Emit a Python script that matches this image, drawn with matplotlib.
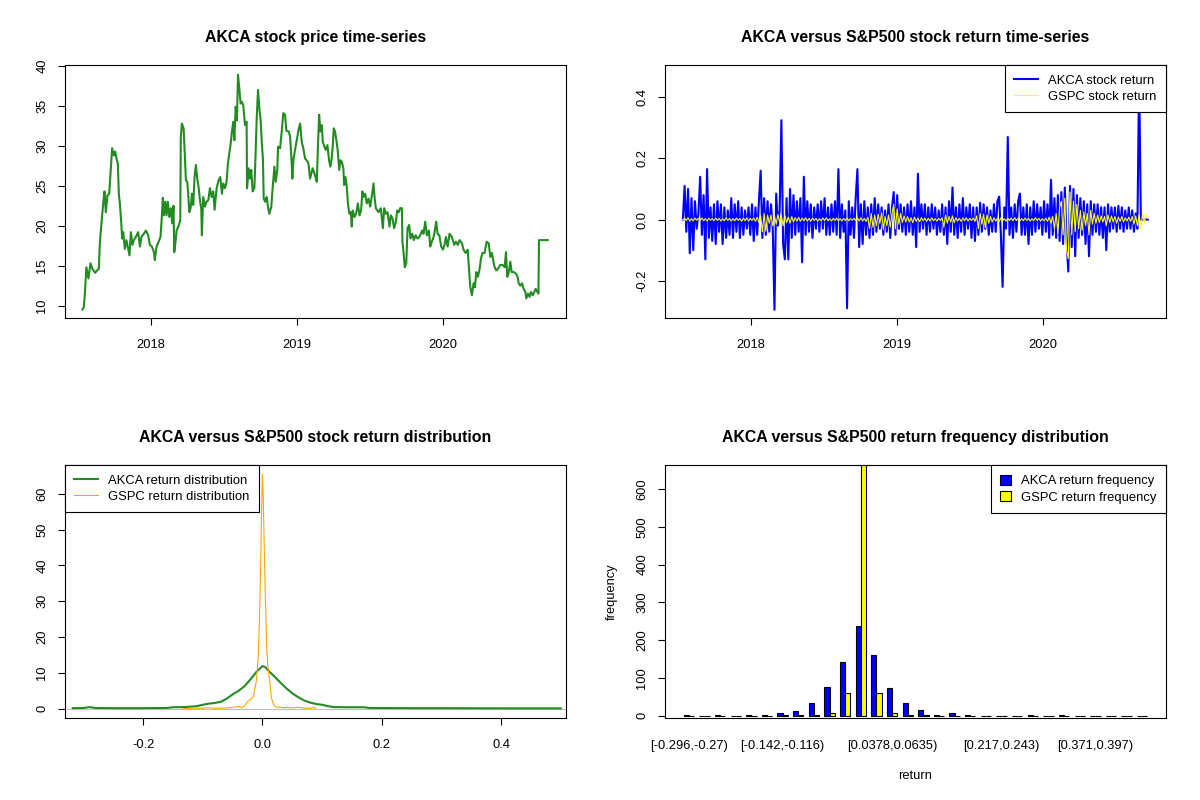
import numpy as np
import matplotlib
matplotlib.use("Agg")
import matplotlib.pyplot as plt
from matplotlib.patches import Patch

plt.rcParams["font.family"] = ["Liberation Sans", "DejaVu Sans"]

# ---- AKCA closing price (decimal year, USD) ----
price_t = [
    2017.532, 2017.541, 2017.548, 2017.555, 2017.559, 2017.573, 2017.587, 2017.600, 2017.619, 2017.632,
    2017.644, 2017.650, 2017.655, 2017.664, 2017.674, 2017.683, 2017.692, 2017.703, 2017.715, 2017.724,
    2017.735, 2017.747, 2017.756, 2017.765, 2017.774, 2017.781, 2017.788, 2017.797, 2017.804, 2017.811,
    2017.822, 2017.833, 2017.845, 2017.854, 2017.863, 2017.874, 2017.884, 2017.897, 2017.913, 2017.925,
    2017.936, 2017.952, 2017.966, 2017.982, 2017.993, 2018.007, 2018.021, 2018.027, 2018.039, 2018.053,
    2018.066, 2018.075, 2018.082, 2018.089, 2018.098, 2018.107, 2018.116, 2018.126, 2018.137, 2018.146,
    2018.155, 2018.160, 2018.169, 2018.176, 2018.192, 2018.201, 2018.205, 2018.212, 2018.224, 2018.233,
    2018.240, 2018.249, 2018.256, 2018.263, 2018.272, 2018.281, 2018.290, 2018.299, 2018.308, 2018.317,
    2018.326, 2018.336, 2018.345, 2018.349, 2018.358, 2018.370, 2018.381, 2018.393, 2018.404, 2018.416,
    2018.427, 2018.436, 2018.450, 2018.463, 2018.475, 2018.486, 2018.495, 2018.507, 2018.518, 2018.527,
    2018.537, 2018.546, 2018.555, 2018.564, 2018.571, 2018.580, 2018.589, 2018.596, 2018.605, 2018.614,
    2018.623, 2018.632, 2018.644, 2018.655, 2018.658, 2018.669, 2018.678, 2018.687, 2018.696, 2018.708,
    2018.715, 2018.724, 2018.733, 2018.742, 2018.751, 2018.758, 2018.767, 2018.772, 2018.783, 2018.792,
    2018.801, 2018.810, 2018.824, 2018.833, 2018.845, 2018.854, 2018.865, 2018.870, 2018.884, 2018.895,
    2018.906, 2018.918, 2018.927, 2018.943, 2018.952, 2018.961, 2018.968, 2018.975, 2018.986, 2018.998,
    2019.009, 2019.021, 2019.032, 2019.043, 2019.055, 2019.066, 2019.078, 2019.089, 2019.107, 2019.123,
    2019.135, 2019.142, 2019.151, 2019.160, 2019.169, 2019.176, 2019.187, 2019.196, 2019.208, 2019.219,
    2019.228, 2019.237, 2019.244, 2019.251, 2019.260, 2019.269, 2019.279, 2019.288, 2019.297, 2019.306,
    2019.317, 2019.322, 2019.331, 2019.340, 2019.349, 2019.358, 2019.368, 2019.374, 2019.381, 2019.393,
    2019.404, 2019.416, 2019.427, 2019.438, 2019.447, 2019.454, 2019.466, 2019.477, 2019.489, 2019.500,
    2019.514, 2019.523, 2019.530, 2019.539, 2019.557, 2019.573, 2019.587, 2019.596, 2019.607, 2019.619,
    2019.632, 2019.642, 2019.653, 2019.664, 2019.676, 2019.685, 2019.696, 2019.705, 2019.717, 2019.721,
    2019.728, 2019.737, 2019.747, 2019.756, 2019.767, 2019.776, 2019.788, 2019.799, 2019.811, 2019.824,
    2019.836, 2019.847, 2019.856, 2019.865, 2019.877, 2019.888, 2019.902, 2019.911, 2019.922, 2019.934,
    2019.945, 2019.952, 2019.961, 2019.973, 2019.986, 2019.998, 2020.009, 2020.018, 2020.030, 2020.043,
    2020.059, 2020.075, 2020.087, 2020.100, 2020.112, 2020.128, 2020.139, 2020.153, 2020.167, 2020.176,
    2020.185, 2020.196, 2020.208, 2020.217, 2020.226, 2020.237, 2020.249, 2020.258, 2020.269, 2020.283,
    2020.297, 2020.311, 2020.322, 2020.333, 2020.345, 2020.352, 2020.363, 2020.374, 2020.390, 2020.406,
    2020.420, 2020.429, 2020.438, 2020.447, 2020.459, 2020.468, 2020.482, 2020.498, 2020.509, 2020.516,
    2020.527, 2020.539, 2020.550, 2020.562, 2020.568, 2020.580, 2020.591, 2020.600, 2020.612, 2020.623,
    2020.632, 2020.644, 2020.651, 2020.655, 2020.715,
]
price = [
    9.5, 9.8, 11.3, 13.6, 14.8, 13.4, 15.3, 14.6, 14.1, 14.4,
    14.6, 17.4, 18.8, 20.7, 22.8, 24.3, 21.7, 23.8, 24.0, 26.5,
    29.7, 28.8, 29.3, 28.4, 27.8, 24.0, 22.8, 20.5, 18.4, 19.2,
    17.1, 18.2, 17.1, 16.3, 19.2, 17.6, 18.2, 18.6, 19.2, 17.4,
    18.6, 19.0, 19.4, 18.8, 17.6, 17.4, 16.7, 15.7, 17.4, 18.0,
    18.6, 21.1, 23.5, 21.3, 23.0, 21.3, 23.0, 21.1, 22.2, 20.3,
    22.5, 16.7, 18.0, 19.4, 20.1, 20.7, 31.1, 32.8, 32.2, 28.6,
    25.7, 25.5, 23.8, 21.7, 22.2, 24.0, 22.6, 26.1, 27.6, 25.9,
    24.9, 23.2, 22.0, 18.8, 23.6, 22.4, 23.0, 23.2, 24.7, 23.6,
    24.3, 22.0, 24.7, 25.7, 26.1, 24.0, 25.3, 24.7, 25.5, 27.8,
    29.1, 30.3, 31.8, 33.0, 30.7, 34.9, 33.2, 38.9, 37.2, 35.3,
    35.5, 35.1, 32.6, 33.0, 24.7, 27.2, 25.9, 27.0, 24.3, 24.7,
    28.2, 33.4, 37.0, 34.7, 33.2, 30.7, 28.2, 23.4, 23.0, 23.6,
    22.4, 21.5, 22.4, 24.7, 27.4, 25.5, 27.0, 29.9, 29.7, 31.8,
    34.1, 33.9, 31.9, 31.8, 31.2, 28.6, 25.9, 28.2, 29.5, 30.7,
    31.9, 32.8, 30.5, 29.7, 28.4, 28.2, 27.8, 25.9, 27.2, 26.3,
    25.5, 29.5, 33.9, 31.8, 32.6, 30.5, 29.9, 29.5, 30.1, 28.2,
    27.4, 28.4, 29.9, 32.2, 31.8, 30.7, 29.3, 27.0, 28.2, 28.0,
    27.2, 25.1, 26.1, 24.9, 22.6, 21.5, 21.7, 19.9, 21.9, 21.1,
    21.5, 22.8, 21.3, 21.9, 24.3, 23.6, 24.0, 22.8, 23.4, 22.4,
    24.0, 25.3, 23.6, 22.2, 21.7, 22.2, 19.7, 22.2, 21.5, 21.7,
    19.9, 21.3, 20.9, 19.7, 20.5, 21.9, 21.7, 22.2, 22.2, 18.0,
    16.7, 14.8, 15.3, 19.7, 20.1, 18.4, 19.0, 18.2, 18.8, 18.4,
    18.6, 19.0, 19.4, 19.0, 20.5, 18.8, 19.4, 17.4, 18.0, 18.6,
    19.7, 20.5, 19.0, 18.8, 17.4, 17.0, 17.6, 18.6, 17.4, 19.0,
    18.6, 17.6, 18.0, 17.6, 18.2, 17.8, 17.0, 16.6, 17.0, 14.6,
    12.3, 11.3, 12.8, 12.3, 14.2, 13.6, 14.6, 15.9, 16.6, 16.6,
    18.0, 17.8, 16.1, 16.6, 15.3, 14.8, 14.4, 14.6, 15.1, 15.1,
    14.8, 16.7, 13.6, 14.0, 15.5, 14.2, 14.2, 14.0, 13.6, 12.8,
    12.5, 12.8, 12.1, 11.7, 10.9, 11.5, 11.1, 11.7, 11.3, 11.7,
    12.1, 11.7, 11.5, 18.2, 18.2,
]

# ---- daily returns (estimated from the chart, ~every third trading day) ----
ret_start, ret_end = 2017.535, 2020.715
akca_ret = [
    0.0, 0.11, -0.04, 0.10, -0.11, 0.07, -0.10, 0.06, -0.03, 0.02,
    0.14, -0.05, 0.08, -0.13, 0.165, -0.06, 0.04, -0.07, 0.05, -0.08,
    0.06, -0.04, 0.05, -0.08, 0.04, -0.06, 0.03, -0.05, 0.07, -0.06,
    0.05, -0.04, 0.06, -0.06, 0.04, -0.05, 0.03, -0.03, 0.04, -0.05,
    0.05, -0.07, 0.04, -0.05, 0.06, 0.16, -0.06, 0.07, -0.05, 0.06,
    -0.04, 0.05, -0.03, -0.295, 0.085, -0.02, 0.03, 0.325, -0.08, -0.13,
    0.07, -0.13, 0.10, -0.06, 0.08, -0.05, 0.06, -0.04, 0.07, -0.14,
    0.14, -0.05, 0.06, -0.04, 0.05, -0.06, 0.04, -0.03, 0.05, -0.04,
    0.06, -0.03, 0.07, -0.05, 0.04, -0.05, 0.05, -0.04, 0.06, -0.05,
    0.165, -0.06, 0.05, -0.04, 0.03, -0.29, 0.06, -0.05, 0.04, -0.06,
    0.07, 0.165, -0.09, 0.05, -0.08, 0.06, -0.05, 0.04, -0.06, 0.05,
    -0.05, 0.07, -0.04, 0.05, -0.03, 0.04, -0.05, 0.03, -0.04, 0.05,
    -0.06, 0.04, 0.09, -0.05, 0.08, -0.03, 0.05, -0.04, 0.04, -0.05,
    0.05, -0.04, 0.06, -0.05, 0.04, -0.09, 0.15, -0.04, 0.05, -0.03,
    0.05, -0.05, 0.04, -0.04, 0.05, -0.03, 0.04, -0.05, 0.03, -0.04,
    0.05, -0.05, 0.04, -0.08, 0.06, -0.04, 0.105, -0.05, 0.04, -0.06,
    0.05, -0.04, 0.07, -0.05, 0.04, -0.03, 0.05, -0.06, 0.04, -0.07,
    0.04, -0.05, 0.055, -0.04, 0.05, -0.03, 0.04, -0.05, 0.03, -0.04,
    0.05, -0.04, 0.06, 0.075, -0.05, -0.22, 0.04, -0.03, 0.27, -0.05,
    0.04, -0.06, 0.05, -0.04, 0.06, 0.085, -0.05, 0.04, -0.05, 0.05,
    -0.08, 0.04, -0.05, 0.06, -0.04, 0.05, -0.03, 0.04, -0.05, 0.06,
    -0.04, 0.05, -0.06, 0.13, -0.05, 0.07, -0.06, 0.08, -0.07, 0.09,
    -0.08, 0.105, -0.06, -0.17, 0.11, -0.09, 0.10, -0.12, 0.08, -0.06,
    0.07, -0.05, 0.06, -0.08, 0.05, -0.12, 0.06, -0.05, 0.05, -0.04,
    0.05, -0.05, 0.04, -0.06, 0.04, -0.10, 0.05, -0.04, 0.04, -0.03,
    0.04, -0.04, 0.045, -0.03, 0.04, -0.04, 0.03, -0.03, 0.04, -0.03,
    0.03, -0.04, 0.02, -0.03, 0.474, 0.0, 0.0, 0.0, 0.0, 0.0,
]
gspc_ret = [
    0.0, 0.004, -0.003, 0.006, -0.005, 0.003, -0.004, 0.005, -0.002, 0.004,
    -0.003, 0.005, -0.004, 0.003, -0.005, 0.004, -0.002, 0.003, -0.004, 0.005,
    -0.003, 0.004, -0.005, 0.003, -0.004, 0.006, -0.003, 0.004, -0.005, 0.003,
    -0.004, 0.005, -0.003, 0.004, -0.006, 0.005, -0.004, 0.006, -0.005, 0.004,
    -0.003, 0.005, -0.006, 0.008, -0.01, 0.012, -0.04, 0.02, -0.038, 0.015,
    -0.012, 0.015, -0.02, 0.012, -0.015, 0.017, -0.01, 0.012, -0.02, 0.015,
    -0.01, 0.008, -0.012, 0.01, -0.008, 0.006, -0.005, 0.007, -0.006, 0.005,
    -0.004, 0.006, -0.005, 0.004, -0.006, 0.005, -0.003, 0.004, -0.005, 0.003,
    -0.004, 0.005, -0.003, 0.006, -0.004, 0.003, -0.005, 0.004, -0.003, 0.005,
    -0.004, 0.003, -0.005, 0.004, -0.003, 0.005, -0.004, 0.003, -0.002, 0.004,
    -0.003, 0.005, -0.004, 0.006, -0.005, 0.004, -0.006, 0.008, -0.03, 0.02,
    -0.025, 0.015, -0.02, 0.018, -0.012, 0.022, -0.033, 0.01, -0.02, 0.015,
    -0.025, 0.02, 0.05, -0.03, 0.035, -0.015, 0.02, -0.01, 0.012, -0.008,
    0.01, -0.008, 0.006, -0.01, 0.008, -0.006, 0.005, -0.007, 0.006, -0.004,
    0.005, -0.006, 0.004, -0.005, 0.006, -0.004, 0.003, -0.005, 0.004, -0.003,
    0.006, -0.025, 0.015, -0.012, 0.01, -0.008, 0.012, -0.01, 0.006, -0.005,
    0.004, -0.006, 0.005, -0.004, 0.006, -0.005, 0.004, -0.003, 0.005, -0.006,
    0.012, -0.03, 0.02, -0.015, 0.018, -0.026, 0.015, -0.012, 0.01, -0.008,
    0.006, -0.005, 0.004, -0.006, 0.005, -0.004, 0.003, -0.005, 0.004, -0.003,
    0.005, -0.004, 0.006, -0.003, 0.004, -0.005, 0.003, -0.004, 0.005, -0.003,
    0.004, -0.005, 0.003, -0.004, 0.006, -0.003, 0.004, -0.005, 0.003, -0.004,
    0.005, -0.006, 0.008, -0.012, 0.01, -0.03, 0.02, -0.045, 0.04, 0.06,
    -0.05, 0.07, -0.10, -0.128, 0.09, -0.05, 0.06, -0.04, 0.05, -0.03,
    0.03, -0.035, 0.025, -0.02, 0.02, -0.05, 0.03, -0.015, 0.02, -0.012,
    0.015, -0.01, 0.012, -0.008, 0.01, -0.02, 0.015, -0.01, 0.012, -0.008,
    0.01, -0.012, 0.008, -0.006, 0.01, -0.008, 0.006, -0.005, 0.008, -0.006,
    0.01, -0.015, 0.012, -0.02, 0.015, -0.03, 0.02, -0.01, 0.015, 0.005,
]

# ---- kernel density estimates ----
akca_dens_x = [-0.318, -0.30, -0.29, -0.28, -0.25, -0.20, -0.16, -0.15, -0.13, -0.11,
               -0.10, -0.09, -0.08, -0.07, -0.06, -0.05, -0.04, -0.03, -0.02, -0.01,
               0.0, 0.005, 0.01, 0.02, 0.03, 0.04, 0.05, 0.06, 0.07, 0.08,
               0.09, 0.10, 0.11, 0.12, 0.14, 0.17, 0.18, 0.25, 0.30, 0.40, 0.50]
akca_dens_y = [0.15, 0.2, 0.45, 0.2, 0.15, 0.15, 0.2, 0.4, 0.45, 0.7,
               1.1, 1.4, 1.6, 1.9, 2.8, 4.0, 5.0, 6.3, 8.2, 10.3,
               11.9, 11.6, 10.6, 9.0, 7.3, 5.7, 4.3, 3.2, 2.3, 1.7,
               1.3, 1.1, 0.7, 0.45, 0.4, 0.4, 0.2, 0.15, 0.15, 0.1, 0.1]
gspc_dens_x = [-0.133, -0.12, -0.10, -0.09, -0.08, -0.06, -0.05, -0.04, -0.035, -0.03,
               -0.025, -0.02, -0.015, -0.01, -0.007, -0.005, -0.003, -0.0015, 0.0, 0.0015,
               0.003, 0.005, 0.007, 0.009, 0.012, 0.015, 0.018, 0.02, 0.025, 0.03,
               0.035, 0.04, 0.05, 0.06, 0.07, 0.08, 0.088, 0.089]
gspc_dens_y = [0.0, 0.15, 0.1, 0.3, 0.1, 0.2, 0.4, 0.6, 0.3, 0.8,
               2.0, 2.6, 3.5, 8.0, 15.0, 25.0, 40.0, 55.0, 65.4, 58.0,
               45.0, 30.0, 18.0, 12.0, 8.0, 3.0, 1.5, 0.8, 0.3, 0.5,
               0.2, 0.4, 0.2, 0.4, 0.15, 0.1, 0.4, 0.0]

# ---- return frequency table (30 bins of width ~0.0257 from -0.296) ----
akca_freq = [2, 0, 2, 0, 2, 2, 8, 13, 33, 77, 142, 237, 161, 74, 35, 16, 2, 6, 2, 0,
             0, 0, 3, 0, 2, 0, 0, 0, 0, 0]
gspc_freq = [0, 0, 0, 0, 0, 0, 2, 2, 2, 8, 60, 672, 60, 8, 3, 2, 0, 0, 0, 0,
             0, 0, 0, 0, 0, 0, 0, 0, 0, 0]
bin_label_idx = [0, 6, 13, 20, 26]
bin_labels = ["[-0.296,-0.27)", "[-0.142,-0.116)", "[0.0378,0.0635)",
              "[0.217,0.243)", "[0.371,0.397)"]

FS = 9.3
TFS = 11.4


def r_style(ax):
    for s in ax.spines.values():
        s.set_linewidth(0.8)
        s.set_color("black")
    ax.tick_params(direction="out", length=5, width=0.8, labelsize=FS, colors="black")
    ax.tick_params(axis="x", pad=10)
    ax.tick_params(axis="y", pad=7)
    for lab in ax.get_yticklabels():
        lab.set_rotation(90)
        lab.set_va("center")


def r_legend(ax, handles, labels, loc, square=False):
    kw = dict(handlelength=0.8, handleheight=0.8) if square else dict(handlelength=1.8)
    leg = ax.legend(handles, labels, loc=loc, fontsize=9.4, fancybox=False,
                    framealpha=1, edgecolor="black", borderaxespad=0,
                    handletextpad=0.8, labelspacing=0.3, borderpad=0.72, **kw)
    leg.get_frame().set_linewidth(0.8)
    return leg


fig = plt.figure(figsize=(12, 8), dpi=100)
w, h = 0.4175, 0.316
ax1 = fig.add_axes([0.0542, 0.6025, w, h])
ax2 = fig.add_axes([0.5542, 0.6025, w, h])
ax3 = fig.add_axes([0.0542, 0.1025, w, h])
ax4 = fig.add_axes([0.5542, 0.1025, w, h])

# price
ax1.plot(price_t, price, color="#228B22", lw=1.5)
ax1.set_xlim(2017.413, 2020.84)
ax1.set_ylim(8.45, 40.1)
ax1.set_xticks([2018, 2019, 2020], ["2018", "2019", "2020"])
ax1.set_yticks([10, 15, 20, 25, 30, 35, 40])
ax1.set_title("AKCA stock price time-series", fontsize=TFS, fontweight="bold", pad=17)
r_style(ax1)

# returns
ret_t = np.linspace(ret_start, ret_end, len(akca_ret))
l1, = ax2.plot(ret_t, akca_ret, color="blue", lw=1.5)
l2, = ax2.plot(ret_t, gspc_ret, color="yellow", lw=0.8)
ax2.set_xlim(2017.413, 2020.84)
ax2.set_ylim(-0.322, 0.505)
ax2.set_xticks([2018, 2019, 2020], ["2018", "2019", "2020"])
ax2.set_yticks([-0.2, 0.0, 0.2, 0.4], ["-0.2", "0.0", "0.2", "0.4"])
ax2.set_title("AKCA versus S&P500 stock return time-series", fontsize=TFS,
              fontweight="bold", pad=17)
r_style(ax2)
r_legend(ax2, [l1, l2], ["AKCA stock return", "GSPC stock return"], "upper right")

# density
ax3.axhline(0, color="#BEBEBE", lw=0.8)
d1, = ax3.plot(akca_dens_x, akca_dens_y, color="#228B22", lw=1.5)
d2, = ax3.plot(gspc_dens_x, gspc_dens_y, color="orange", lw=0.8)
ax3.set_xlim(-0.331, 0.509)
ax3.set_ylim(-2.6, 68.0)
ax3.set_xticks([-0.2, 0.0, 0.2, 0.4], ["-0.2", "0.0", "0.2", "0.4"])
ax3.set_yticks([0, 10, 20, 30, 40, 50, 60])
ax3.set_title("AKCA versus S&P500 stock return distribution", fontsize=TFS,
              fontweight="bold", pad=17)
r_style(ax3)
r_legend(ax3, [d1, d2], ["AKCA return distribution", "GSPC return distribution"], "upper left")

# frequency bars (R barplot beside=TRUE layout)
groups = np.arange(len(akca_freq))
ax4.bar(3 * groups + 1, akca_freq, width=1, align="edge", color="blue",
        edgecolor="black", linewidth=0.8)
ax4.bar(3 * groups + 2, gspc_freq, width=1, align="edge", color="yellow",
        edgecolor="black", linewidth=0.8)
ax4.set_xlim(-2.56, 93.56)
ax4.set_ylim(-6, 663)
ax4.set_xticks([3 * i + 2 for i in bin_label_idx], bin_labels)
ax4.set_yticks([0, 100, 200, 300, 400, 500, 600])
ax4.set_title("AKCA versus S&P500 return frequency distribution", fontsize=TFS,
              fontweight="bold", pad=17)
r_style(ax4)
ax4.tick_params(axis="x", length=0, pad=16)
ax4.set_xlabel("return", fontsize=FS)
ax4.set_ylabel("frequency", fontsize=FS)
ax4.xaxis.set_label_coords(0.5, -0.205)
ax4.yaxis.set_label_coords(-0.094, 0.5)
r_legend(ax4, [Patch(facecolor="blue", edgecolor="black", lw=0.8),
               Patch(facecolor="yellow", edgecolor="black", lw=0.8)],
         ["AKCA return frequency", "GSPC return frequency"], "upper right", square=True)

fig.savefig("out.png", dpi=100)
